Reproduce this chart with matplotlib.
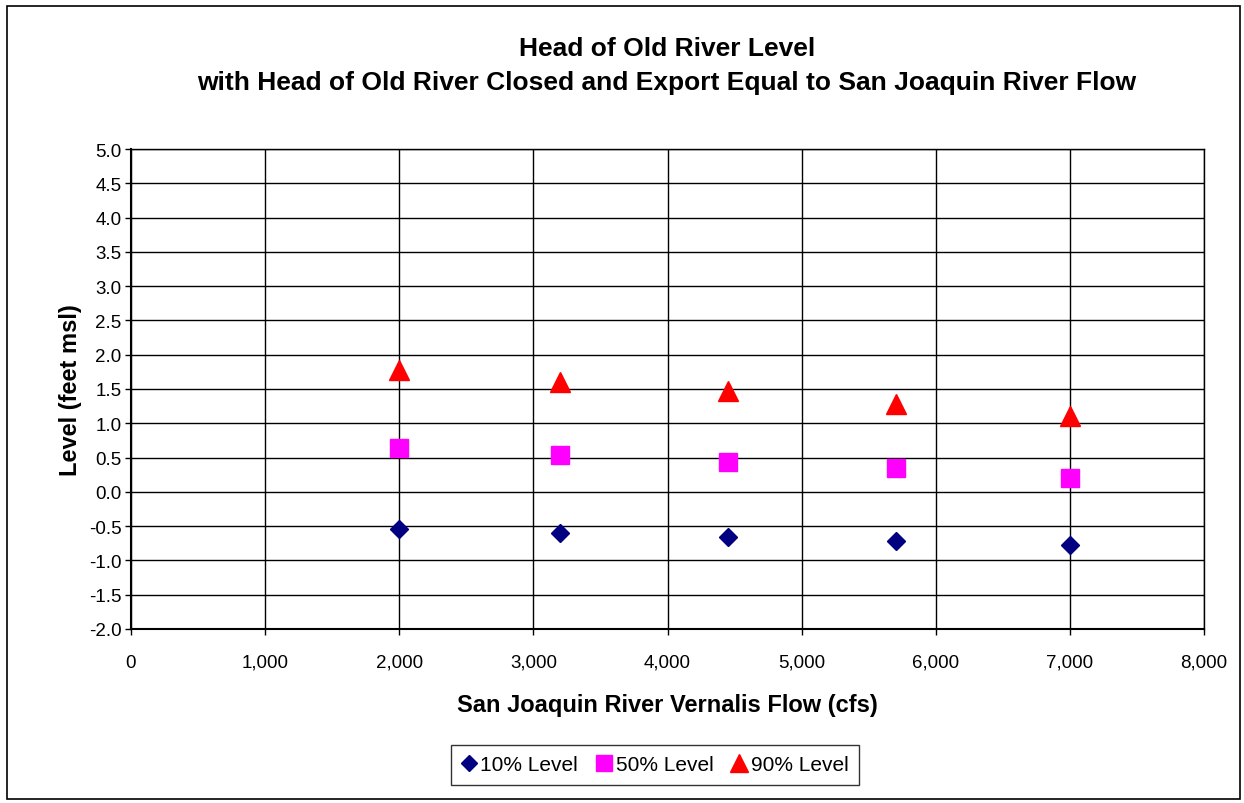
import numpy as np
import matplotlib
matplotlib.use("Agg")
import matplotlib.pyplot as plt
from matplotlib.ticker import FuncFormatter, MultipleLocator
from matplotlib.patches import Rectangle

plt.rcParams['font.family'] = ['Liberation Sans', 'DejaVu Sans']

# data
flow = [2000, 3200, 4450, 5700, 7000]
level_10 = [-0.54, -0.60, -0.66, -0.72, -0.77]
level_50 = [0.64, 0.54, 0.44, 0.35, 0.20]
level_90 = [1.78, 1.60, 1.47, 1.28, 1.11]

series_names = ['10% Level', '50% Level', '90% Level']

fig = plt.figure(figsize=(12.44, 8.04), dpi=100)
ax = fig.add_axes([131/1244, 1 - 630/804, (1204-131)/1244, (630-150)/804])

# outer chart border
fig.patches.append(Rectangle((7/1244, 1 - 800/804), 1233/1244, 793/804,
                             transform=fig.transFigure, fill=False,
                             edgecolor='black', linewidth=1.2))

ax.plot(flow, level_10, linestyle='none', marker='D', markersize=9.5,
        color='#000080', label=series_names[0], zorder=3)
ax.plot(flow, level_50, linestyle='none', marker='s', markersize=13.5,
        color='#FF00FF', label=series_names[1], zorder=3)
ax.plot(flow, level_90, linestyle='none', marker='^', markersize=14,
        color='#FF0000', label=series_names[2], zorder=3)

ax.set_xlim(0, 8000)
ax.set_ylim(-2.0, 5.0)
ax.xaxis.set_major_locator(MultipleLocator(1000))
ax.yaxis.set_major_locator(MultipleLocator(0.5))
ax.xaxis.set_major_formatter(FuncFormatter(lambda v, p: '{:,.0f}'.format(v)))
ax.yaxis.set_major_formatter(FuncFormatter(lambda v, p: '{:.1f}'.format(v)))
ax.grid(True, color='black', linewidth=1.0)
ax.set_axisbelow(True)
for s in ['top', 'right']:
    ax.spines[s].set_color('black')
    ax.spines[s].set_linewidth(1.0)
for s in ['left', 'bottom']:
    ax.spines[s].set_linewidth(1.5)
ax.tick_params(direction='out', length=4, width=1, labelsize=13.5, pad=3)
ax.tick_params(axis='x', pad=14)

ax.set_xlabel('San Joaquin River Vernalis Flow (cfs)', fontsize=17,
              fontweight='bold', labelpad=16)
ax.set_ylabel('Level (feet msl)', fontsize=17, fontweight='bold', labelpad=5)

fig.text(667/1244, 1 - 66/804,
         'Head of Old River Level\n'
         'with Head of Old River Closed and Export Equal to San Joaquin River Flow',
         ha='center', va='center', fontsize=19, fontweight='bold', linespacing=1.55)

leg = fig.legend(loc='center', bbox_to_anchor=(655/1244, 1 - 766/804),
                 ncol=3, fontsize=15, frameon=True, fancybox=False,
                 edgecolor='black', handlelength=0.7, handletextpad=0.2,
                 columnspacing=0.9, borderpad=0.5, markerscale=0.9)
leg.get_frame().set_linewidth(1.0)

fig.savefig('out.png', dpi=100)
